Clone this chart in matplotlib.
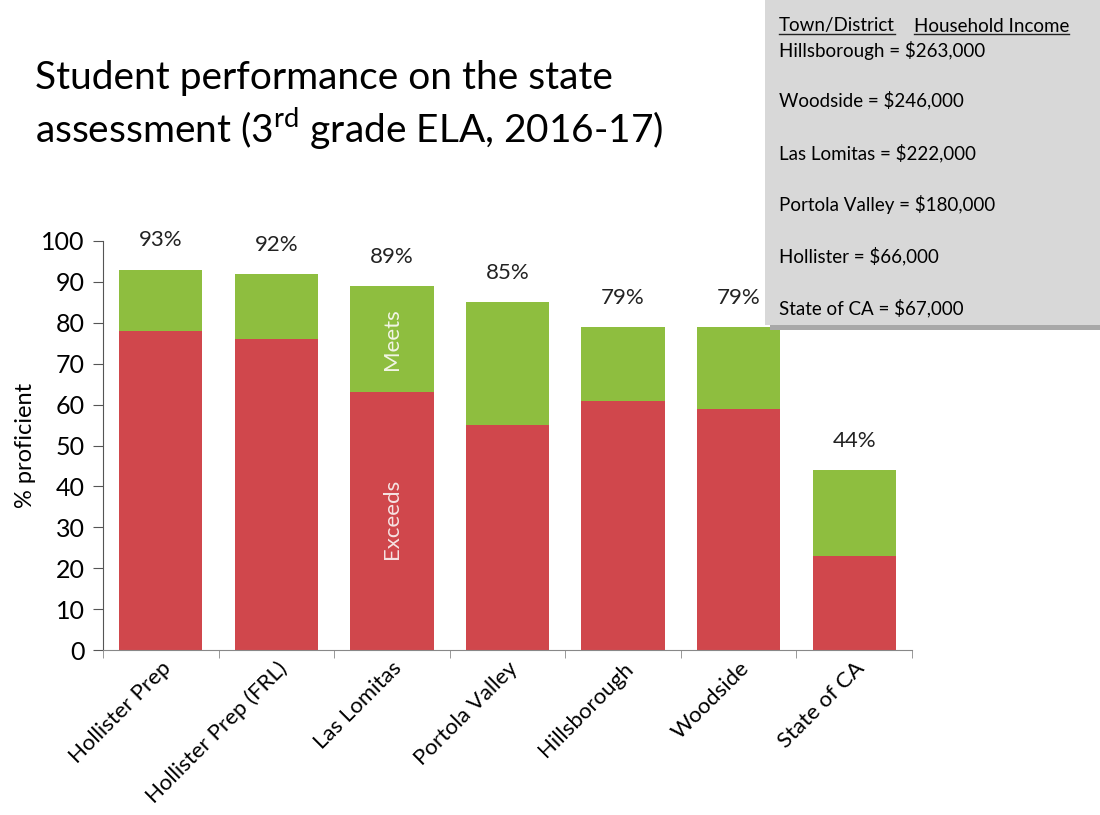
import matplotlib
matplotlib.use("Agg")
import matplotlib.pyplot as plt
from matplotlib.patches import Rectangle
import numpy as np

plt.rcParams['font.family'] = ['Lato', 'DejaVu Sans']
plt.rcParams['mathtext.fontset'] = 'custom'
plt.rcParams['mathtext.rm'] = 'Lato'

categories = ["Hollister Prep", "Hollister Prep (FRL)", "Las Lomitas", "Portola Valley",
              "Hillsborough", "Woodside", "State of CA"]
exceeds = [78, 76, 63, 55, 61, 59, 23]
meets = [15, 16, 26, 30, 18, 20, 21]
totals = [93, 92, 89, 85, 79, 79, 44]
income_lines = ["Hillsborough = $263,000", "Woodside = $246,000", "Las Lomitas = $222,000",
                "Portola Valley = $180,000", "Hollister = $66,000", "State of CA = $67,000"]

RED = "#D0474C"
GREEN = "#8EBE3F"

fig = plt.figure(figsize=(11, 8.15), dpi=100)
ax = fig.add_axes([103/1100, 1-650/815, (912-103)/1100, (650-241)/815])

x = np.arange(len(categories))
ax.bar(x, exceeds, width=0.72, color=RED)
ax.bar(x, meets, width=0.72, bottom=exceeds, color=GREEN)

for xi, t in zip(x, totals):
    ax.annotate(f"{t}%", (xi, t), xytext=(0, 21), textcoords="offset points",
                ha="center", va="center", fontsize=16, color="#222222")

ax.text(2, exceeds[2] + meets[2] / 2, "Meets", rotation=90, ha="center", va="center",
        fontsize=16, color="#F2F5E6")
ax.text(2, 32, "Exceeds", rotation=90, ha="center", va="center",
        fontsize=16, color="#F6E3E3")

ax.set_xlim(-0.5, len(categories) - 0.5)
ax.set_ylim(0, 100)
ax.set_yticks(range(0, 101, 10))
ax.tick_params(axis="y", labelsize=18, length=7, color="#555555", pad=6)
ax.set_xticks(x)
ax.set_xticklabels(categories, rotation=45, ha="right", rotation_mode="anchor", fontsize=16)
ax.tick_params(axis="x", length=0, pad=6)
ax.set_xticks(np.arange(-0.5, len(categories), 1), minor=True)
ax.tick_params(axis="x", which="minor", length=6, color="#888888")
for s in ["top", "right"]:
    ax.spines[s].set_visible(False)
ax.spines["left"].set_color("#555555")
ax.spines["bottom"].set_color("#888888")
ax.set_ylabel("% proficient", fontsize=17, labelpad=4)

fig.text(35/1100, 1-78/815, "Student performance on the state", fontsize=28, va="center", ha="left")
fig.text(35/1100, 1-128/815, r"assessment (3$^{\mathrm{rd}}$ grade ELA, 2016-17)", fontsize=28,
         va="center", ha="left")

# shaded info box
fig.patches.append(Rectangle((770/1100, 1-330/815), 340/1100, 330/815, transform=fig.transFigure,
                             facecolor="#A8A8A8", edgecolor="none", zorder=0))
fig.patches.append(Rectangle((765/1100, 1-325/815), 340/1100, 330/815, transform=fig.transFigure,
                             facecolor="#D8D8D8", edgecolor="none", zorder=1))
h1 = fig.text(779/1100, 1-26/815, "Town/District", fontsize=13.5, va="center", ha="left", zorder=3)
h2 = fig.text(914/1100, 1-26/815, "Household Income", fontsize=13.5, va="center", ha="left", zorder=3)
ys = [50, 100, 153, 205, 256, 308]
for yy, line in zip(ys, income_lines):
    fig.text(779/1100, 1-yy/815, line, fontsize=13.5, va="center", ha="left", zorder=3)

fig.canvas.draw()
r = fig.canvas.get_renderer()
for t in (h1, h2):
    bb = t.get_window_extent(r).transformed(fig.transFigure.inverted())
    fig.add_artist(plt.Line2D([bb.x0, bb.x1], [bb.y0 + 0.001, bb.y0 + 0.001], transform=fig.transFigure,
                              color="#222222", lw=1, zorder=4))

fig.savefig("out.png", dpi=100)
